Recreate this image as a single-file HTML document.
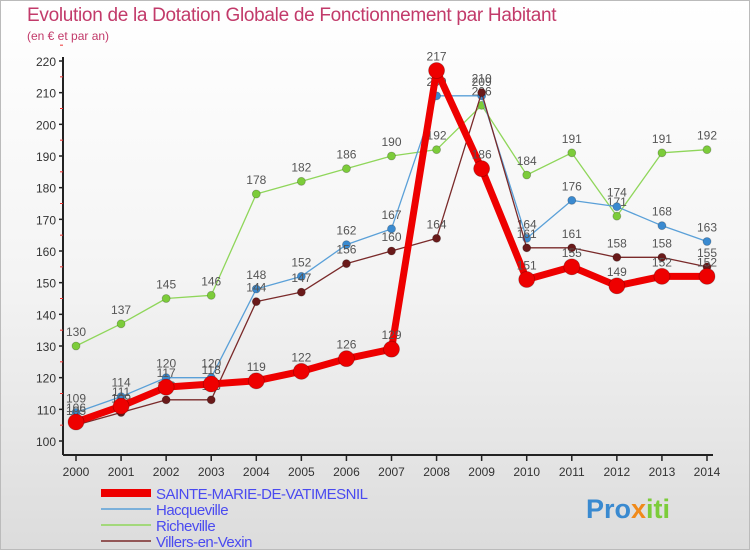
<!DOCTYPE html>
<html><head><meta charset="utf-8"><style>
body{margin:0;width:750px;height:550px;overflow:hidden;font-family:"Liberation Sans",sans-serif;}
#wrap{position:relative;width:748px;height:548px;border:1px solid #bbb;background:linear-gradient(#fff 0%,#f4f4f4 50%,#dcdcdc 100%);}
.t{position:absolute;left:26px;top:4px;font-size:19px;color:#c23a6a;letter-spacing:-0.3px}
.s{position:absolute;left:26px;top:28px;font-size:12px;color:#c23a6a}
</style></head><body><div id="wrap">
<div class="t">Evolution de la Dotation Globale de Fonctionnement par Habitant</div>
<div class="s">(en € et par an)</div>
<svg id="svg" width="750" height="550" style="position:absolute;left:0;top:0"></svg>
</div>
<script>
const years=[2000,2001,2002,2003,2004,2005,2006,2007,2008,2009,2010,2011,2012,2013,2014];
const yTicks=[100,110,120,130,140,150,160,170,180,190,200,210,220];
const sainteMarie=[106,111,117,118,119,122,126,129,217,186,151,155,149,152,152];
const hacqueville=[109,114,120,120,148,152,162,167,209,209,164,176,174,168,163];
const richeville=[130,137,145,146,178,182,186,190,192,206,184,191,171,191,192];
const villers=[105,109,113,113,144,147,156,160,164,210,161,161,158,158,155];
const NS="http://www.w3.org/2000/svg";
const svg=document.getElementById('svg');
const X=i=>75+i*(706-75)/(years.length-1);
const Y=v=>440-(v-100)*(380/120);
function mk(t,a,p){const e=document.createElementNS(NS,t);for(const k in a)e.setAttribute(k,a[k]);(p||svg).appendChild(e);return e;}
let ax=mk('g',{});


mk('line',{x1:62,y1:56,x2:62,y2:454,stroke:'#222','stroke-width':2},ax);
mk('line',{x1:62,y1:454,x2:712,y2:454,stroke:'#222','stroke-width':2},ax);
yTicks.forEach(v=>{
 mk('line',{x1:58,x2:62,y1:Y(v),y2:Y(v),stroke:'#222','stroke-width':1.5},ax);
 mk('line',{x1:59,x2:62,y1:Y(v+5),y2:Y(v+5),stroke:'#e33','stroke-width':1},ax);
 const t=mk('text',{x:55,y:Y(v)+5,'text-anchor':'end','font-size':12,fill:'#333'},ax);t.textContent=v;
 
 
});
years.forEach((y,i)=>{
 mk('line',{x1:X(i),x2:X(i),y1:454,y2:460,stroke:'#222','stroke-width':1.5},ax);
 const t=mk('text',{x:X(i),y:475,'text-anchor':'middle','font-size':12,fill:'#333'},ax);t.textContent=y;
 
 
});
function series(data,color,w,r,name,dot){
 const g=mk('g',{});
 
 
 mk('polyline',{points:data.map((v,i)=>X(i)+','+Y(v)).join(' '),fill:'none',stroke:color,'stroke-width':w,'stroke-linejoin':'round'},g);
 data.forEach((v,i)=>{
  const c=mk('circle',{cx:X(i),cy:Y(v),r:r,fill:dot,stroke:'rgba(0,0,0,0.25)','stroke-width':0.8},g);
  
  
  const t=mk('text',{x:X(i),y:Y(v)-10,'text-anchor':'middle','font-size':12,fill:'#555'},g);t.textContent=v;
  
  
 });
}
series(richeville,'#8fd65a',1.3,4,'series-richeville','#7ccc3a');
series(hacqueville,'#5aa0d8',1.3,4,'series-hacqueville','#3a8ad0');
series(villers,'#7a2a2a',1.3,4,'series-villers-en-vexin','#6a1a1a');
series(sainteMarie,'#ee0000',7,8,'series-sainte-marie','#ee0000');
const leg=[['SAINTE-MARIE-DE-VATIMESNIL','#ee0000',8],['Hacqueville','#5aa0d8',1.5],['Richeville','#8fd65a',1.5],['Villers-en-Vexin','#7a2a2a',1.5]];
leg.forEach((l,i)=>{
 const g=mk('g',{});
 
 
 const y=492+i*16;
 mk('line',{x1:100,x2:150,y1:y,y2:y,stroke:l[1],'stroke-width':l[2]},g);
 const t=mk('text',{x:155,y:y+6,'font-size':15,fill:'#4a4af0','letter-spacing':'-0.5'},g);t.textContent=l[0];
});
const lg=mk('text',{x:585,y:517,'font-size':27,'font-weight':'bold',fill:'#3a8ad0'});


lg.innerHTML='Pro<tspan fill="#f08a1a">x</tspan><tspan fill="#7ccc3a">iti</tspan>';
</script></body></html>
